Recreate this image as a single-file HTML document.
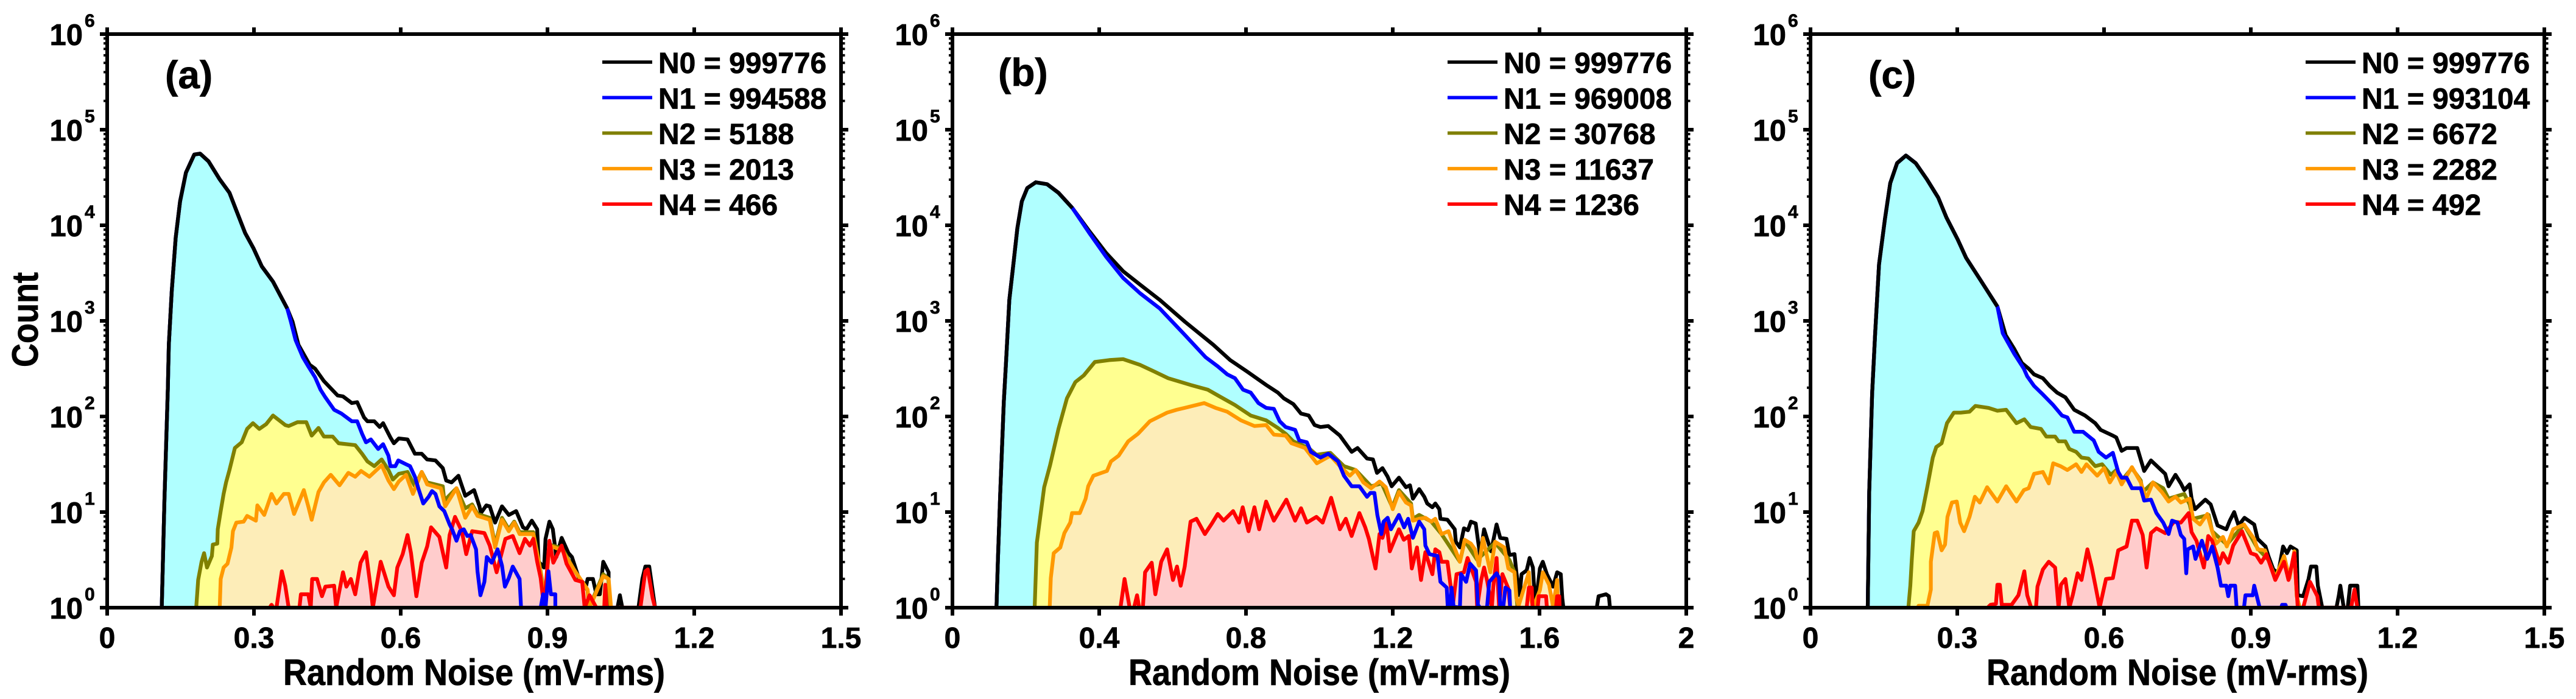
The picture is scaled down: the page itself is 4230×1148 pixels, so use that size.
<!DOCTYPE html>
<html lang="en">
<head>
<meta charset="utf-8">
<title>Random noise histograms</title>
<style>
html,body{margin:0;padding:0;background:#fff;}
svg{display:block;}
text{font-family:"Liberation Sans",Arial,sans-serif;font-weight:bold;fill:#000;stroke:#000;stroke-width:.7px;}
</style>
</head>
<body>
<svg id="chart" xmlns="http://www.w3.org/2000/svg" width="4230" height="1148" viewBox="0 0 4230 1148"></svg>
<script>
// Values: [noise in mV-rms, log10 of count]. Readings below the axis (count < 1) are stored as 0.
const xTicksA = [0, 0.3, 0.6, 0.9, 1.2, 1.5];
const xTickLabelsA = ["0", "0.3", "0.6", "0.9", "1.2", "1.5"];
const xTicksB = [0, 0.4, 0.8, 1.2, 1.6, 2];
const xTickLabelsB = ["0", "0.4", "0.8", "1.2", "1.6", "2"];
const decadeExponents = [0, 1, 2, 3, 4, 5, 6];
const minorMultipliers = [2, 3, 4, 5, 6, 7, 8, 9];

const legendA = ["N0 = 999776", "N1 = 994588", "N2 = 5188", "N3 = 2013", "N4 = 466"];
const legendB = ["N0 = 999776", "N1 = 969008", "N2 = 30768", "N3 = 11637", "N4 = 1236"];
const legendC = ["N0 = 999776", "N1 = 993104", "N2 = 6672", "N3 = 2282", "N4 = 492"];

/* ---------- panel (a) ---------- */
const aHead = [[.1115,0],[.117,1.12],[.124,2.29],[.126,2.75],[.132,3.31],[.14,3.87],[.149,4.25],[.161,4.55],[.178,4.74],[.19,4.75],[.207,4.67],[.23,4.48],[.25,4.34],[.264,4.155],[.282,3.92],[.299,3.76],[.316,3.57],[.339,3.41],[.368,3.13]];
const aN0 = [...aHead,[.379,2.99],[.391,2.75],[.414,2.54],[.425,2.5],[.443,2.37],[.471,2.22],[.482,2.21],[.5,2.14],[.511,2.15],[.525,1.99],[.532,1.95],[.546,1.95],[.557,1.89],[.564,1.93],[.579,1.78],[.586,1.72],[.596,1.77],[.614,1.76],[.629,1.61],[.643,1.61],[.654,1.55],[.671,1.54],[.686,1.46],[.693,1.33],[.704,1.31],[.718,1.38],[.732,1.17],[.75,1.23],[.761,1.06],[.764,.99],[.775,1.07],[.782,1.06],[.793,.89],[.807,1.06],[.821,.97],[.836,1.01],[.85,.84],[.857,.82],[.868,.91],[.879,.82],[.882,.48],[.893,.42],[.896,.72],[.904,.9],[.911,.82],[.918,.53],[.929,.73],[.943,.57],[.95,.53],[.964,.31],[.979,.23],[.982,.3],[.993,.3],[1,.14],[1.007,.14],[1.014,.48],[1.025,.37],[1.025,0],[1.043,0],[1.048,.13],[1.053,0],[1.086,0],[1.094,.3],[1.1,.43],[1.108,.43],[1.12,0]];
const aN1 = [...aHead,[.375,3],[.385,2.8],[.4,2.62],[.411,2.525],[.425,2.41],[.436,2.28],[.446,2.2],[.464,2.07],[.479,2.03],[.5,1.95],[.511,1.95],[.521,1.82],[.529,1.73],[.539,1.76],[.554,1.66],[.564,1.71],[.575,1.59],[.579,1.48],[.589,1.48],[.595,1.54],[.611,1.5],[.619,1.48],[.629,1.37],[.636,1.25],[.646,1.09],[.657,1.16],[.664,1.22],[.671,1.19],[.679,1.06],[.689,1.01],[.7,.87],[.705,.82],[.714,.7],[.721,.8],[.729,.82],[.736,.75],[.743,.76],[.754,.61],[.757,.38],[.763,.13],[.771,.27],[.776,.53],[.786,.47],[.798,.61],[.807,.44],[.813,.22],[.821,.31],[.829,.43],[.843,.3],[.846,0],[.886,0],[.891,.14],[.896,0],[.902,.38],[.907,.14],[.916,.14],[.916,0]];
const aN2 = [[.182,0],[.186,.29],[.193,.48],[.198,.57],[.204,.42],[.214,.54],[.216,.66],[.225,.67],[.226,.82],[.232,1.01],[.238,1.19],[.243,1.31],[.25,1.44],[.261,1.67],[.275,1.73],[.286,1.87],[.298,1.93],[.311,1.87],[.325,1.92],[.339,2.01],[.364,1.91],[.371,1.9],[.389,1.94],[.407,1.94],[.418,1.8],[.432,1.88],[.443,1.79],[.461,1.79],[.473,1.72],[.507,1.7],[.521,1.61],[.532,1.53],[.546,1.48],[.561,1.55],[.575,1.44],[.584,1.34],[.596,1.4],[.614,1.42],[.629,1.27],[.643,1.42],[.654,1.31],[.686,1.27],[.689,1.12],[.714,1.25],[.732,1.04],[.746,1.08],[.757,.98],[.782,.94],[.793,.66],[.807,.94],[.821,.82],[.832,.9],[.843,.79],[.871,.79],[.882,.5],[.889,.29],[.893,0],[.904,.66],[.93,.62],[.954,.4],[.982,.18],[.985,0],[1.014,.35],[1.025,.3],[1.027,0]];
const aN3 = [[.23,0],[.232,.3],[.238,.42],[.246,.46],[.254,.63],[.257,.8],[.264,.89],[.279,.9],[.286,.96],[.304,.91],[.307,1.07],[.321,.97],[.336,1.19],[.346,1.09],[.361,1.19],[.371,1.19],[.382,.98],[.402,1.23],[.411,1.06],[.418,.92],[.432,1.21],[.443,1.31],[.457,1.39],[.475,1.28],[.493,1.41],[.507,1.37],[.519,1.43],[.536,1.37],[.561,1.49],[.575,1.33],[.586,1.24],[.596,1.32],[.611,1.39],[.625,1.19],[.643,1.42],[.654,1.29],[.682,1.25],[.691,1.06],[.714,1.25],[.732,.94],[.746,1.06],[.757,.96],[.782,.92],[.793,.63],[.807,.92],[.821,.8],[.832,.89],[.843,.77],[.871,.77],[.882,.48],[.889,.27],[.893,0],[.904,.65],[.93,.6],[.954,.4],[.982,.19],[.986,0],[1.014,.33],[1.025,.3],[1.03,0]];
const aN4 = [[.332,0],[.336,.03],[.34,0],[.346,0],[.357,.38],[.364,.23],[.371,0],[.393,0],[.396,.14],[.411,.14],[.416,0],[.419,.3],[.429,.3],[.439,.12],[.446,.22],[.464,.23],[.468,0],[.482,.37],[.489,.22],[.498,.3],[.507,.14],[.518,.47],[.529,.58],[.539,.19],[.543,0],[.559,.48],[.575,.22],[.586,.13],[.593,.42],[.604,.56],[.614,.76],[.621,.57],[.632,.12],[.643,.47],[.654,.64],[.662,.84],[.679,.74],[.693,.42],[.7,.76],[.711,.95],[.725,.8],[.734,.56],[.746,.8],[.771,.78],[.782,.65],[.796,.37],[.814,.72],[.829,.75],[.843,.57],[.854,.72],[.864,.65],[.871,.72],[.879,.48],[.886,.31],[.893,0],[.904,.7],[.912,.47],[.929,.65],[.939,.46],[.957,.29],[.971,.27],[.976,0],[.986,.13],[1,0],[1.016,0],[1.018,.24],[1.021,0],[1.09,0],[1.1,.38],[1.105,.4],[1.115,.1],[1.12,0]];

/* ---------- panel (b) ---------- */
const bHead = [[.12,0],[.124,.51],[.13,1.17],[.14,2.15],[.146,2.57],[.155,3.22],[.166,3.59],[.177,3.97],[.189,4.25],[.204,4.39],[.227,4.45],[.258,4.43],[.289,4.34],[.327,4.18]];
const bN0 = [...bHead,[.373,3.94],[.419,3.71],[.465,3.52],[.511,3.38],[.565,3.22],[.634,2.99],[.711,2.75],[.757,2.59],[.803,2.47],[.855,2.33],[.887,2.25],[.903,2.19],[.929,2.13],[.95,2.03],[.971,2.01],[.987,1.91],[1.003,1.89],[1.024,1.9],[1.056,1.8],[1.088,1.63],[1.104,1.67],[1.13,1.56],[1.146,1.55],[1.157,1.41],[1.172,1.46],[1.186,1.37],[1.197,1.27],[1.217,1.36],[1.236,1.26],[1.247,1.28],[1.255,1.14],[1.272,1.24],[1.286,1.16],[1.294,1.09],[1.308,1.05],[1.316,1.09],[1.327,1.03],[1.33,.93],[1.349,.92],[1.369,.82],[1.372,.69],[1.383,.63],[1.394,.83],[1.405,.81],[1.413,.9],[1.426,.88],[1.432,.71],[1.438,.55],[1.449,.82],[1.458,.71],[1.468,.59],[1.483,.87],[1.493,.73],[1.51,.72],[1.518,.55],[1.532,.56],[1.537,.37],[1.546,.13],[1.551,.35],[1.565,.39],[1.573,.52],[1.582,.42],[1.587,.1],[1.595,.21],[1.601,.41],[1.609,.48],[1.62,.35],[1.637,.22],[1.648,.37],[1.658,.35],[1.662,.1],[1.665,0],[1.756,0],[1.761,.12],[1.781,.14],[1.789,.12],[1.792,0]];
const bN1 = [...bHead,[.373,3.92],[.419,3.67],[.465,3.45],[.511,3.29],[.565,3.13],[.634,2.85],[.69,2.62],[.723,2.525],[.749,2.44],[.77,2.4],[.792,2.28],[.813,2.25],[.834,2.14],[.855,2.09],[.876,2.08],[.892,1.95],[.908,1.89],[.934,1.86],[.945,1.75],[.966,1.73],[.977,1.63],[1.003,1.57],[1.024,1.61],[1.051,1.53],[1.067,1.38],[1.088,1.27],[1.109,1.27],[1.13,1.16],[1.139,1.2],[1.15,1.2],[1.158,.97],[1.169,.77],[1.175,.9],[1.186,.94],[1.195,.82],[1.217,.97],[1.231,.84],[1.242,.93],[1.255,.73],[1.272,.9],[1.286,.82],[1.289,.65],[1.3,.56],[1.322,.54],[1.33,.27],[1.347,.21],[1.35,0],[1.356,0],[1.36,.21],[1.366,.01],[1.383,0],[1.386,.35],[1.4,.27],[1.411,.46],[1.427,.39],[1.432,.03],[1.438,0],[1.457,0],[1.463,.27],[1.483,.36],[1.49,.31],[1.493,0],[1.501,0],[1.507,.21],[1.518,.18],[1.52,0]];
const bN2 = [[.224,0],[.23,.68],[.25,1.26],[.266,1.49],[.289,1.87],[.312,2.19],[.335,2.36],[.358,2.43],[.388,2.57],[.427,2.59],[.465,2.6],[.511,2.54],[.55,2.47],[.588,2.4],[.649,2.33],[.696,2.28],[.728,2.21],[.77,2.12],[.813,2.01],[.855,1.96],[.887,1.88],[.908,1.82],[.929,1.74],[.971,1.67],[.992,1.6],[1.03,1.62],[1.067,1.48],[1.099,1.44],[1.141,1.27],[1.17,1.3],[1.199,1.05],[1.217,1.23],[1.25,1.09],[1.255,.93],[1.272,.97],[1.305,.9],[1.333,.77],[1.383,.48],[1.396,.7],[1.43,.5],[1.479,.68],[1.518,.5],[1.532,.37],[1.54,0]];
const bN3 = [[.265,0],[.268,.31],[.276,.57],[.294,.63],[.305,.78],[.321,.89],[.326,.99],[.347,.99],[.363,1.14],[.37,1.27],[.384,1.38],[.421,1.43],[.432,1.53],[.453,1.59],[.479,1.74],[.506,1.82],[.538,1.95],[.585,2.04],[.611,2.07],[.633,2.09],[.686,2.14],[.717,2.09],[.749,2.05],[.786,1.96],[.823,1.9],[.855,1.91],[.876,1.81],[.908,1.8],[.924,1.72],[.961,1.67],[.993,1.51],[1.03,1.59],[1.056,1.48],[1.083,1.38],[1.099,1.44],[1.12,1.31],[1.141,1.25],[1.164,1.32],[1.181,1.26],[1.2,1.03],[1.217,1.21],[1.236,1.1],[1.25,1.07],[1.255,.91],[1.272,.93],[1.289,.94],[1.305,.9],[1.316,.93],[1.333,.77],[1.352,.8],[1.366,.65],[1.383,.48],[1.396,.71],[1.413,.67],[1.424,.61],[1.435,.44],[1.446,.73],[1.466,.37],[1.479,.69],[1.504,.63],[1.515,.41],[1.532,.37],[1.537,.1],[1.543,.02],[1.551,.12],[1.571,.37],[1.575,.12],[1.582,0],[1.601,.18],[1.609,.37],[1.626,.24],[1.637,.01],[1.648,.29],[1.651,0]];
const bN4 = [[.458,0],[.469,.3],[.483,0],[.495,0],[.503,.13],[.509,0],[.519,0],[.525,.37],[.543,.47],[.553,.14],[.569,.48],[.585,.61],[.601,.29],[.612,.43],[.622,.23],[.633,.43],[.641,.67],[.649,.9],[.665,.93],[.688,.77],[.707,.88],[.723,.98],[.739,.91],[.765,1.01],[.781,.89],[.791,1.05],[.807,.8],[.823,1.05],[.836,.82],[.855,1.11],[.876,.91],[.91,1.13],[.934,.91],[.95,1.04],[.966,.89],[.992,.95],[1.009,.89],[1.032,1.15],[1.056,.82],[1.072,.93],[1.088,.75],[1.109,.99],[1.125,.84],[1.135,.72],[1.153,.41],[1.164,.77],[1.172,.73],[1.183,.88],[1.192,.59],[1.217,.82],[1.23,.71],[1.244,.75],[1.252,.41],[1.266,.63],[1.277,.29],[1.289,.58],[1.308,.35],[1.316,.61],[1.327,.58],[1.333,.48],[1.349,.48],[1.358,.22],[1.363,0],[1.374,.35],[1.394,.37],[1.404,.52],[1.427,.27],[1.43,0],[1.441,.29],[1.449,.42],[1.458,.27],[1.47,0],[1.474,.22],[1.483,.52],[1.49,0],[1.499,.35],[1.515,.2],[1.52,0],[1.565,0],[1.571,.21],[1.579,.21],[1.581,0],[1.595,0],[1.598,.12],[1.618,.12],[1.62,0],[1.645,0],[1.648,.12],[1.654,.12],[1.655,0]];

/* ---------- panel (c) ---------- */
const cHead = [[.117,0],[.12,1.21],[.126,2.24],[.132,2.85],[.14,3.59],[.152,4.06],[.163,4.44],[.177,4.65],[.195,4.73],[.215,4.65],[.238,4.48],[.261,4.29],[.278,4.08],[.301,3.85],[.318,3.66],[.347,3.43],[.382,3.15]];
const cN0 = [...cHead,[.399,2.85],[.416,2.71],[.432,2.56],[.446,2.5],[.457,2.44],[.475,2.4],[.489,2.32],[.504,2.25],[.521,2.2],[.539,2.07],[.561,2.01],[.582,1.93],[.593,1.86],[.618,1.8],[.625,1.78],[.636,1.64],[.646,1.67],[.668,1.67],[.682,1.43],[.696,1.54],[.725,1.4],[.732,1.27],[.746,1.39],[.757,1.3],[.764,1.23],[.775,1.29],[.779,1.14],[.786,1.03],[.807,1.13],[.818,1.08],[.832,.86],[.85,.82],[.857,.91],[.866,1],[.875,.86],[.887,.94],[.907,.87],[.914,.72],[.93,.64],[.936,.54],[.946,.4],[.956,.36],[.966,.64],[.974,.57],[.981,.64],[.994,.6],[.996,.13],[1.007,.12],[1.018,.3],[1.023,.43],[1.034,.43],[1.037,.23],[1.046,0],[1.075,0],[1.08,.13],[1.083,.23],[1.09,0],[1.098,0],[1.103,.23],[1.118,.23],[1.12,0]];
const cN1 = [...cHead,[.393,2.87],[.416,2.66],[.436,2.5],[.443,2.42],[.457,2.32],[.475,2.23],[.496,2.12],[.514,2.01],[.525,1.99],[.539,1.84],[.557,1.84],[.579,1.75],[.589,1.63],[.604,1.57],[.618,1.62],[.629,1.42],[.636,1.36],[.646,1.36],[.657,1.25],[.675,1.25],[.682,1.12],[.696,1.13],[.707,.99],[.721,.89],[.732,.77],[.739,.91],[.75,.89],[.757,.76],[.764,.72],[.768,.36],[.771,.61],[.782,.64],[.787,.51],[.8,.7],[.811,.51],[.821,.64],[.832,.42],[.839,.23],[.85,.23],[.854,.12],[.858,.23],[.868,.23],[.871,0],[.886,0],[.889,.13],[.904,.13],[.907,.23],[.918,0],[.962,0],[.964,.03],[.971,.03],[.973,0]];
const cN2 = [[.2,0],[.204,.23],[.207,.5],[.211,.8],[.221,.89],[.229,1.01],[.239,1.27],[.25,1.57],[.257,1.68],[.268,1.72],[.279,1.93],[.293,2.04],[.307,2.04],[.325,2.05],[.337,2.11],[.364,2.09],[.382,2.06],[.4,2.07],[.421,1.93],[.437,1.97],[.45,1.89],[.471,1.87],[.482,1.79],[.5,1.79],[.507,1.74],[.521,1.74],[.529,1.66],[.543,1.63],[.554,1.57],[.568,1.56],[.582,1.48],[.596,1.5],[.614,1.39],[.625,1.44],[.636,1.33],[.657,1.46],[.675,1.33],[.679,1.21],[.7,1.31],[.721,1.25],[.732,1.14],[.764,1.19],[.775,1.08],[.782,.93],[.814,.97],[.821,.8],[.851,.66],[.886,.87],[.914,.62],[.936,.5],[.95,.31],[.968,.54],[.979,.31],[.989,.59],[.994,.12],[1,0]];
const cN3 = [[.219,0],[.221,.02],[.239,.02],[.246,.19],[.246,.48],[.254,.78],[.259,.79],[.268,.6],[.275,.66],[.28,.95],[.289,1.1],[.299,1.11],[.306,.89],[.314,.8],[.325,.95],[.336,1.16],[.346,1.1],[.361,1.26],[.382,1.11],[.4,1.27],[.421,1.11],[.436,1.23],[.446,1.25],[.457,1.4],[.475,1.42],[.487,1.3],[.496,1.51],[.511,1.48],[.525,1.44],[.543,1.5],[.554,1.42],[.564,1.5],[.586,1.38],[.6,1.46],[.612,1.31],[.625,1.42],[.636,1.29],[.657,1.47],[.675,1.31],[.686,1.14],[.7,1.31],[.718,1.21],[.732,1.11],[.746,1.16],[.757,1.1],[.775,1.14],[.782,.93],[.796,.87],[.811,.98],[.821,.8],[.829,.67],[.843,.74],[.851,.64],[.864,.82],[.886,.87],[.907,.72],[.914,.61],[.929,.6],[.936,.5],[.95,.31],[.968,.54],[.979,.31],[.989,.59],[.994,.12],[1,0]];
const cN4 = [[.362,0],[.368,.03],[.379,.04],[.382,.24],[.387,.24],[.391,.03],[.411,.03],[.425,.13],[.437,.38],[.443,.13],[.451,0],[.461,0],[.464,.22],[.475,.4],[.487,.48],[.5,.42],[.507,0],[.512,.24],[.521,.3],[.529,0],[.536,.13],[.546,.36],[.554,.29],[.566,.61],[.575,.42],[.582,.24],[.591,0],[.604,.3],[.618,.31],[.629,.6],[.646,.64],[.657,.91],[.668,.91],[.679,.76],[.687,.42],[.696,.78],[.707,.83],[.725,.78],[.743,.9],[.757,.89],[.773,.99],[.779,.79],[.789,.7],[.804,.42],[.813,.75],[.821,.7],[.836,.46],[.843,.57],[.854,.47],[.864,.65],[.882,.8],[.9,.57],[.911,.55],[.921,.47],[.932,.56],[.95,.29],[.968,.48],[.977,.29],[.989,.57],[.996,0],[1.007,0],[1.021,.27],[1.036,.12],[1.039,0],[1.105,0],[1.112,.19],[1.118,0]];

const svgNS = "http://www.w3.org/2000/svg";
const root = document.getElementById("chart");

const plotTop = 56, decadePx = 157, plotWidth = 1205;
const plotBottom = plotTop + 6 * decadePx;

function el(tag, attrs, parent) {
  const e = document.createElementNS(svgNS, tag);
  for (const k in attrs) e.setAttribute(k, attrs[k]);
  parent.appendChild(e);
  return e;
}

const colours = { n0: "#000000", n1: "#0000ff", n2: "#808000", n3: "#ff9900", n4: "#ff0000" };
const fills = { n1: "#b0ffff", n2: "#ffff90", n3: "#fdedb8", n4: "#ffcccc" };
const lineWidth = 6.2;

function drawPanel(letter, left, xMax, xTicks, xTickLabels, legend, series, head, labelX, labelY, showCount) {
  const xPos = v => left + v / xMax * plotWidth;
  const yPos = logCount => plotBottom - logCount * decadePx;
  const path = pts => pts.map(p => xPos(p[0]).toFixed(1) + "," + yPos(p[1]).toFixed(1)).join(" ");

  const g = el("g", {}, root);
  
  

  const clipId = "clip-" + letter;
  const defs = el("defs", {}, g);
  const clip = el("clipPath", { id: clipId }, defs);
  el("rect", { x: left, y: plotTop, width: plotWidth, height: plotBottom - plotTop }, clip);

  const marks = el("g", { "clip-path": "url(#" + clipId + ")" }, g);

  // filled areas
  ["n1", "n2", "n3", "n4"].forEach(function (key) {
    const pts = series[key];
    const first = pts[0], last = pts[pts.length - 1];
    const area = el("polygon", {
      points: xPos(first[0]).toFixed(1) + "," + plotBottom + " " + path(pts) + " " + xPos(last[0]).toFixed(1) + "," + plotBottom,
      fill: fills[key], stroke: "none"
    }, marks);
    
    
  });

  // lines
  ["n0", "n2", "n3", "n4", "n1"].forEach(function (key) {
    const line = el("polyline", {
      points: path(series[key]), fill: "none", stroke: colours[key],
      "stroke-width": lineWidth, "stroke-linejoin": "round", "stroke-linecap": "butt"
    }, marks);
    
    
  });

  // N0 runs on top of N1 where the two coincide
  const headLine = el("polyline", {
    points: path(head), fill: "none", stroke: colours.n0,
    "stroke-width": lineWidth, "stroke-linejoin": "round", "stroke-linecap": "butt"
  }, marks);
  
  

  // frame
  const frame = el("rect", { x: left, y: plotTop, width: plotWidth, height: plotBottom - plotTop, fill: "none", stroke: "#000", "stroke-width": 6 }, g);
  
  

  // x ticks + labels
  xTicks.forEach(function (v, i) {
    const x = xPos(v);
    const tb = el("line", { x1: x, x2: x, y1: plotBottom, y2: plotBottom + 13, stroke: "#000", "stroke-width": 6 }, g);
    
    
    const tt = el("line", { x1: x, x2: x, y1: plotTop, y2: plotTop - 11, stroke: "#000", "stroke-width": 6 }, g);
    
    
    const lab = el("text", { x: x, y: 1064, "font-size": 48, "text-anchor": "middle" }, g);
    lab.textContent = xTickLabels[i];
    
    
  });

  // y ticks + labels
  decadeExponents.forEach(function (d) {
    const y = yPos(d);
    [[left, left - 12], [left + plotWidth, left + plotWidth + 12]].forEach(function (pair) {
      const t = el("line", { x1: pair[0], x2: pair[1], y1: y, y2: y, stroke: "#000", "stroke-width": 6 }, g);
      
      
    });
    if (d < 6) {
      minorMultipliers.forEach(function (m) {
        const ym = yPos(d + Math.log10(m));
        [[left, left - 6], [left + plotWidth, left + plotWidth + 6.5]].forEach(function (pair) {
          const t = el("line", { x1: pair[0], x2: pair[1], y1: ym, y2: ym, stroke: "#000", "stroke-width": 4 }, g);
          
          
        });
      });
    }
    const base = el("text", { x: left - 40, y: y + 18, "font-size": 49, "text-anchor": "end" }, g);
    base.textContent = "10";
    
    
    const sup = el("text", { x: left - 37, y: y - 12, "font-size": 30 }, g);
    sup.textContent = String(d);
    
    
  });

  // panel letter
  const tag = el("text", { x: labelX, y: labelY, "font-size": 64 }, g);
  tag.textContent = "(" + letter + ")";
  
  

  // x title
  const title = el("text", {
    transform: "translate(" + (left + plotWidth / 2) + " 1125) scale(1 1.12)",
    "font-size": 54, "text-anchor": "middle"
  }, g);
  title.textContent = "Random Noise (mV-rms)";
  
  

  if (showCount) {
    const yTitle = el("text", {
      transform: "translate(62 525) rotate(-90) scale(1 1.12)",
      "font-size": 54, "text-anchor": "middle"
    }, g);
    yTitle.textContent = "Count";
    
    
  }

  // legend
  const keys = ["n0", "n1", "n2", "n3", "n4"];
  legend.forEach(function (label, i) {
    const ly = 102 + i * 58.3;
    const sw = el("line", { x1: left + 813, x2: left + 895, y1: ly, y2: ly, stroke: colours[keys[i]], "stroke-width": 5.6 }, g);
    
    
    const tx = el("text", { x: left + 905, y: ly + 18, "font-size": 48 }, g);
    tx.textContent = label;
    
    
  });
}

drawPanel("a", 176, 1.5, xTicksA, xTickLabelsA, legendA, { n0: aN0, n1: aN1, n2: aN2, n3: aN3, n4: aN4 }, aHead, 271, 145, true);
drawPanel("b", 1564, 2, xTicksB, xTickLabelsB, legendB, { n0: bN0, n1: bN1, n2: bN2, n3: bN3, n4: bN4 }, bHead, 1639, 141, false);
drawPanel("c", 2973, 1.5, xTicksA, xTickLabelsA, legendC, { n0: cN0, n1: cN1, n2: cN2, n3: cN3, n4: cN4 }, cHead, 3068, 145, false);
</script>
</body>
</html>
